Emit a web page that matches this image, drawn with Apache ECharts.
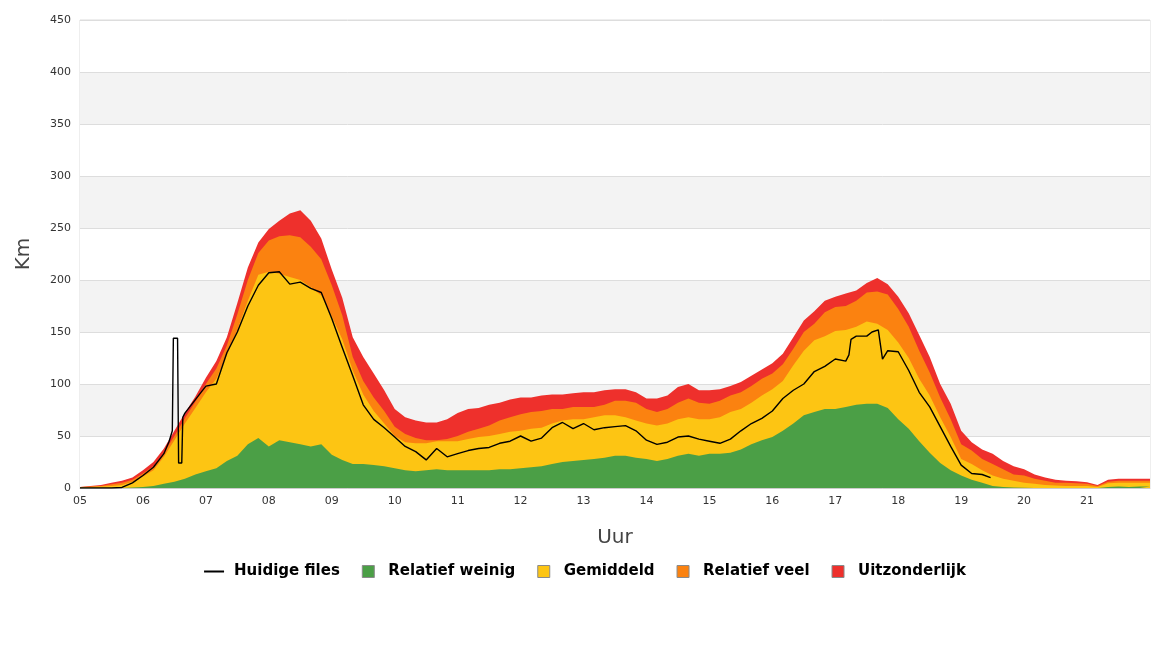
<!DOCTYPE html>
<html>
<head>
<meta charset="utf-8">
<script src="https://cdn.jsdelivr.net/npm/echarts@6/dist/echarts.min.js"></script>
<style>
html,body{margin:0;padding:0;background:#fff;}
#chart{width:1170px;height:650px;}
</style>
</head>
<body>
<div id="chart"></div>
<script>
// Band values sampled every 10 minutes from 05:00 to 22:00 (top of each band, in km)
const bandStartHour = 5;
const bandStepMinutes = 10;

const redTop = [
  1,2,3,5,7,10,
  17,25,38,55,72,88,
  106,122,145,178,212,236,
  249,257,264,267,257,240,
  210,183,145,126,110,94,
  76,68,65,63,63,66,
  72,76,77,80,82,85,
  87,87,89,90,90,91,
  92,92,94,95,95,92,
  86,86,89,97,100,94,
  94,95,98,102,108,114,
  120,129,145,161,170,180,
  184,187,190,197,202,196,
  184,168,147,126,100,81,
  55,44,37,33,26,21,
  18,13,10,8,7,6.5,
  5.5,3,8,9,9,9,
  9
];
const orangeTop = [
  1,1.5,2,3.5,5,8,
  14,21,34,50,67,83,
  100,115,137,167,200,226,
  238,242,243,241,232,220,
  195,166,126,103,87,74,
  59,52,48,46,46,47,
  50,54,57,60,65,68,
  71,73,74,76,76,78,
  78,78,80,84,84,82,
  76,73,76,82,86,82,
  81,84,89,92,98,105,
  110,119,134,150,158,169,
  174,175,180,188,189,186,
  172,155,132,111,87,66,
  42,36,28,23,18,13,
  12,9,7,5,5,4.5,
  4,2,6,7,7,7,
  7
];
const yellowTop = [
  0.5,1,1.5,2,3,6,
  11,17,30,46,62,77,
  92,105,128,152,180,205,
  208,206,203,200,193,185,
  165,143,113,90,74,62,
  50,44,43,43,45,45,
  45,47,49,50,52,54,
  55,57,58,62,65,66,
  66,68,70,70,68,65,
  62,60,62,66,68,66,
  66,68,73,76,82,89,
  95,103,118,132,142,146,
  151,152,155,160,158,152,
  140,125,105,89,68,49,
  28,23,17,12,9,7,
  5,4,3,2.5,2,2,
  2,1,4.5,5,5,5,
  5
];
const greenTop = [
  0,0,0,0,0,0.5,
  1,2,4,6,9,13,
  16,19,26,31,42,48,
  40,46,44,42,40,42,
  32,27,23,23,22,21,
  19,17,16,17,18,17,
  17,17,17,17,18,18,
  19,20,21,23,25,26,
  27,28,29,31,31,29,
  28,26,28,31,33,31,
  33,33,34,37,42,46,
  49,55,62,70,73,76,
  76,78,80,81,81,77,
  66,57,45,34,24,17,
  12,8,5,2,1,0.5,
  0.3,0,0,0,0,0,
  0,0,1,1.5,1,1.5,
  1.5
];

// Current traffic jams (Huidige files)
const lineTimes = [
  '05:00','05:10','05:20','05:30','05:40','05:50','06:00','06:10','06:20','06:25','06:28',
  '06:29','06:33','06:34','06:37','06:38','06:40','06:50',
  '07:00','07:10','07:20','07:30','07:40','07:50',
  '08:00','08:10','08:20','08:30','08:40','08:50',
  '09:00','09:10','09:20','09:30','09:40','09:50',
  '10:00','10:10','10:20','10:30','10:40','10:50',
  '11:00','11:10','11:20','11:30','11:40','11:50',
  '12:00','12:10','12:20','12:30','12:40','12:50',
  '13:00','13:10','13:20','13:30','13:40','13:50',
  '14:00','14:10','14:20','14:30','14:40','14:50',
  '15:00','15:10','15:20','15:30','15:40','15:50',
  '16:00','16:10','16:20','16:30','16:40','16:50',
  '17:00','17:10','17:13','17:15','17:20','17:30','17:35','17:41','17:45','17:50',
  '18:00','18:10','18:20','18:30','18:40','18:50',
  '19:00','19:10','19:20','19:28'
];
const lineValues = [
  0,0,0,0,0.5,5,12,20,33,45,55,
  144,144,24,24,68,72,85,
  98,100,130,150,175,195,
  207,208,196,198,192,188,
  163,135,108,80,66,58,
  49,40,35,27,38,30,
  33,36,38,39,43,45,
  50,45,48,58,63,57,
  62,56,58,59,60,55,
  46,42,44,49,50,47,
  45,43,47,55,62,67,
  74,86,94,100,112,117,
  124,122,128,143,146,146,150,152,124,132,
  131,113,92,78,59,40,
  22,14,13,10
];

const seriesNames = ['Huidige files','Relatief weinig','Gemiddeld','Relatief veel','Uitzonderlijk'];
const colors = {
  line: '#000000',
  green: '#4B9F46',
  yellow: '#FDC513',
  orange: '#FB8210',
  red: '#EE302C'
};

function toHour(s){ const p = s.split(':'); return +p[0] + (+p[1])/60; }
function bandPairs(arr){ return arr.map((v,i)=>[bandStartHour + i*bandStepMinutes/60, v]); }

function areaSeries(name, data, color){
  return {
    name: name, type: 'line', data: bandPairs(data),
    symbol: 'none', showSymbol: false, silent: true,
    lineStyle: { width: 0, color: color },
    itemStyle: { color: color },
    areaStyle: { color: color, opacity: 1 },
    animation: false
  };
}

const chart = echarts.init(document.getElementById('chart'), null, {renderer:'canvas'});
const squareIcon = 'path://M0,0H12V12H0Z';
const lineIcon = 'path://M0,0H20V2H0Z';
const legendRect = { borderColor: '#8a8a8a', borderWidth: 1 };
chart.setOption({
  animation: false,
  backgroundColor: '#ffffff',
  grid: { left: 80, right: 20, top: 20, bottom: 162, show: true, borderColor: '#dddddd', borderWidth: 1, backgroundColor: 'transparent' },
  legend: {
    top: 559, left: 'center', itemWidth: 20, itemHeight: 12, itemGap: 22,
    symbolKeepAspect: true,
    textStyle: { fontSize: 15, fontWeight: 'bold', color: '#000', fontFamily: 'DejaVu Sans, sans-serif', padding: [0,0,0,5] },
    data: [
      { name: seriesNames[0], icon: lineIcon, itemStyle: { borderWidth: 0 } },
      { name: seriesNames[1], icon: squareIcon, itemStyle: legendRect },
      { name: seriesNames[2], icon: squareIcon, itemStyle: legendRect },
      { name: seriesNames[3], icon: squareIcon, itemStyle: legendRect },
      { name: seriesNames[4], icon: squareIcon, itemStyle: legendRect }
    ]
  },
  xAxis: {
    type: 'value', min: 5, max: 22, interval: 1,
    name: 'Uur', nameLocation: 'middle', nameGap: 40,
    nameTextStyle: { fontSize: 20, color: '#444', fontFamily: 'DejaVu Sans, sans-serif' },
    axisLine: { lineStyle: { color: '#cccccc' } },
    axisTick: { show: false },
    splitLine: { show: false },
    axisLabel: {
      color: '#333', fontSize: 11, margin: 8, fontFamily: 'DejaVu Sans, sans-serif',
      formatter: v => v >= 22 ? '' : String(v).padStart(2,'0')
    }
  },
  yAxis: {
    type: 'value', min: 0, max: 450, interval: 50,
    name: 'Km', nameLocation: 'middle', nameGap: 46, nameRotate: 90,
    nameTextStyle: { fontSize: 20, color: '#444', fontFamily: 'DejaVu Sans, sans-serif' },
    axisLine: { show: false },
    axisTick: { show: false },
    axisLabel: { color: '#333', fontSize: 11, margin: 9, fontFamily: 'DejaVu Sans, sans-serif' },
    splitLine: { lineStyle: { color: '#dddddd', width: 1 } },
    splitArea: { show: true, areaStyle: { color: ['#ffffff', '#f3f3f3'] } }
  },
  series: [
    areaSeries(seriesNames[4], redTop, colors.red),
    areaSeries(seriesNames[3], orangeTop, colors.orange),
    areaSeries(seriesNames[2], yellowTop, colors.yellow),
    areaSeries(seriesNames[1], greenTop, colors.green),
    {
      name: seriesNames[0], type: 'line',
      data: lineTimes.map((t,i)=>[toHour(t), lineValues[i]]),
      symbol: 'none', showSymbol: false,
      lineStyle: { color: colors.line, width: 1.4 },
      itemStyle: { color: colors.line },
      z: 5, animation: false
    }
  ]
});
</script>
</body>
</html>
